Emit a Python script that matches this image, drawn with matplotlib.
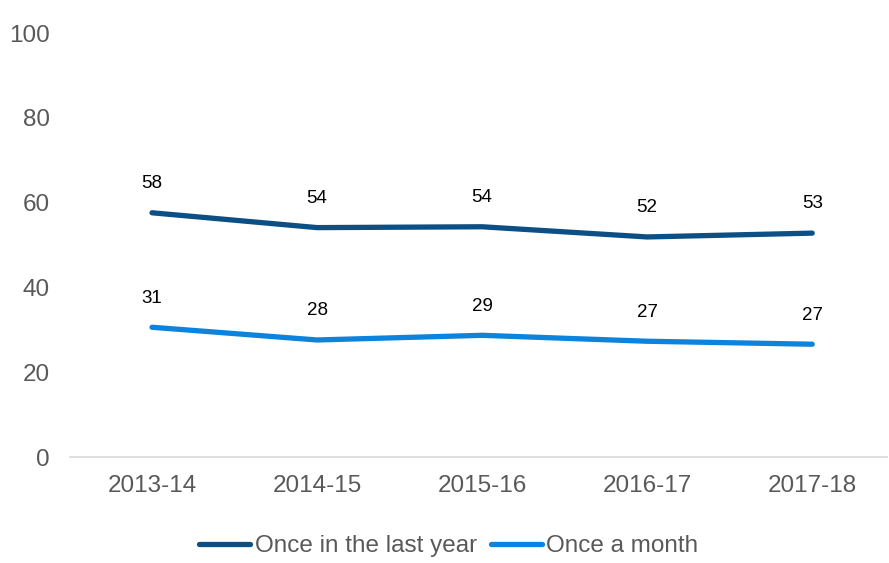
import matplotlib
matplotlib.use("Agg")
import matplotlib.pyplot as plt

plt.rcParams["font.family"] = ["Liberation Sans", "DejaVu Sans"]

years = ["2013-14", "2014-15", "2015-16", "2016-17", "2017-18"]
last_year = [57.6, 54.1, 54.3, 51.9, 52.8]
a_month = [30.6, 27.6, 28.7, 27.3, 26.6]

dark = "#0B4F85"
light = "#0C83DC"
grey = "#595959"

fig = plt.figure(figsize=(8.89, 5.63), dpi=100)
ax = fig.add_axes([69.5 / 889, (563 - 457) / 563, 817 / 889, 424 / 563])

x = range(len(years))
ax.plot(x, last_year, color=dark, lw=3.8, solid_capstyle="round", solid_joinstyle="round",
        label="Once in the last year")
ax.plot(x, a_month, color=light, lw=3.8, solid_capstyle="round", solid_joinstyle="round",
        label="Once a month")

for series in (last_year, a_month):
    for i, v in enumerate(series):
        ax.annotate(f"{v:.0f}", (i, v), xytext=(0, 21), textcoords="offset points",
                    ha="center", va="center", fontsize=13.5, color="black")

ax.set_xlim(-0.5, 4.45)
ax.set_ylim(0, 100)
ax.set_yticks(range(0, 101, 20))
ax.set_xticks(list(x))
ax.set_xticklabels(years)
ax.tick_params(axis="both", length=0, labelsize=17.5, labelcolor=grey)
ax.tick_params(axis="y", pad=14)
ax.tick_params(axis="x", pad=13)
for s in ("top", "right", "left"):
    ax.spines[s].set_visible(False)
ax.spines["bottom"].set_color("#D9D9D9")
ax.spines["bottom"].set_linewidth(1.2)

leg = fig.legend(loc="center", bbox_to_anchor=(449 / 889, 1 - 546 / 563), ncol=2, frameon=False,
                 fontsize=17.5, handlelength=2.1, handletextpad=0.17, columnspacing=0.6)
for t in leg.get_texts():
    t.set_color(grey)

fig.savefig("out.png", dpi=100)
